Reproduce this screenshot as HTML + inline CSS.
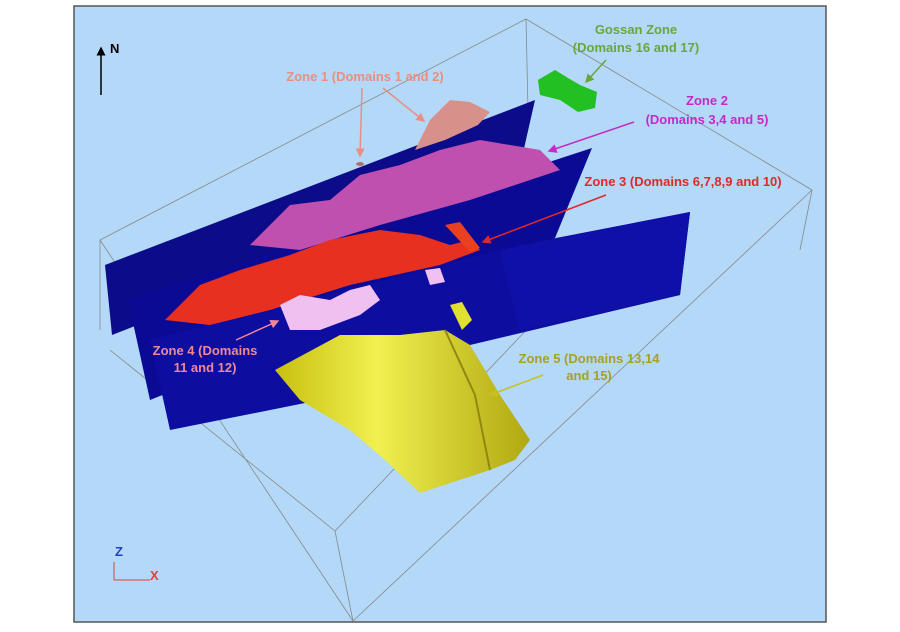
<!DOCTYPE html>
<html><head><style>
body{margin:0;background:#fff;width:900px;height:632px;overflow:hidden}
svg{display:block}
text{font-family:"Liberation Sans",sans-serif;font-weight:bold;font-size:13px}
</style></head><body>
<svg width="900" height="632" viewBox="0 0 900 632">
<defs>
<marker id="a" markerWidth="6" markerHeight="6" refX="5" refY="3" orient="auto"><path d="M0,0L6,3L0,6z" fill="context-stroke"/></marker>
<linearGradient id="y" x1="0" x2="1"><stop offset="0" stop-color="#c8c010"/><stop offset=".4" stop-color="#f0f050"/><stop offset="1" stop-color="#b0a810"/></linearGradient>
</defs>
<rect x="74" y="6" width="752" height="616" fill="#b4d8f8" stroke="#555" stroke-width="1.5"/>
<g stroke="#888" stroke-width="0.8" fill="none">
<path d="M526,19L100,240M526,19L812,190M812,190L353,621M100,240L353,621M335,531L353,621M335,531L555,300M335,531L110,350M526,19L528,110M812,190L800,250M100,240L100,330"/>
</g>
<polygon points="105,265 535,100 518,175 112,335" fill="#0c0c8a"/>
<polygon points="128,300 592,148 555,238 150,400" fill="#0a0a94"/>
<polygon points="150,340 520,245 690,212 680,295 470,345 320,400 170,430" fill="#0d0da0"/>
<polygon points="500,250 690,212 680,295 520,330" fill="#0f10a8"/>
<path d="M415,150 L430,120 L450,100 L470,102 L490,112 L478,125 L445,140Z" fill="#d8908a"/>
<ellipse cx="360" cy="164" rx="4" ry="2" fill="#b07070"/>
<path d="M538,80L555,70L568,78L580,85L597,92L595,108L578,112L560,100L540,95Z" fill="#22c022"/>
<path d="M250,245 L290,205 L330,200 L360,175 L400,165 L440,150 L480,140 L540,150 L560,170 L470,200 L380,225 L300,250Z" fill="#c050b0"/>
<path d="M165,320 L200,285 L240,270 L290,255 L330,240 L380,230 L420,235 L450,245 L470,240 L480,250 L440,265 L350,285 L270,310 L210,325Z" fill="#e83020"/>
<path d="M445,225L460,222L480,248L470,252Z" fill="#e84020"/>
<path d="M280,305L300,295L330,300L350,290L370,285L380,300L360,315L320,330L290,330Z" fill="#f0c0f0"/>
<path d="M425,270L440,268L445,282L430,285Z" fill="#f0c0f0"/>
<path d="M450,305L462,302L472,320L462,330Z" fill="#e0e030"/>
<path d="M275,370 L340,335 L400,335 L445,330 L470,345 L500,395 L530,440 L515,460 L490,470 L420,493 L385,460 L350,430 L300,400Z" fill="url(#y)"/>
<path d="M445,330L475,395L490,470" stroke="#908810" stroke-width="2" fill="none"/>
<path d="M101,95L101,48" stroke="#000" stroke-width="1.5" marker-end="url(#a)"/>
<text x="110" y="53" fill="#000" font-size="12">N</text>
<path d="M114,580L114,562M114,580L150,580" stroke="#e04040" stroke-width="1"/>
<text x="115" y="556" font-size="7" fill="#2040c0">Z</text><text x="150" y="580" font-size="7" fill="#e04040">X</text>
<g text-anchor="middle">
<text x="636" y="34" fill="#66a83a">Gossan Zone</text>
<text x="636" y="52" fill="#66a83a">(Domains 16 and 17)</text>
<text x="365" y="81" fill="#e88f82">Zone 1 (Domains 1 and 2)</text>
<text x="707" y="105" fill="#c828c8">Zone 2</text>
<text x="707" y="124" fill="#c828c8">(Domains 3,4 and 5)</text>
<text x="683" y="186" fill="#e02828">Zone 3 (Domains 6,7,8,9 and 10)</text>
<text x="205" y="355" fill="#f08898">Zone 4 (Domains</text>
<text x="205" y="372" fill="#f08898">11 and 12)</text>
<text x="589" y="363" fill="#a8a020">Zone 5 (Domains 13,14</text>
<text x="589" y="380" fill="#a8a020">and 15)</text>
</g>
<g stroke-width="1.5" fill="none">
<path d="M362,88L360,156" stroke="#e88f82" marker-end="url(#a)"/>
<path d="M383,88L424,121" stroke="#e88f82" marker-end="url(#a)"/>
<path d="M606,60L586,82" stroke="#66a83a" marker-end="url(#a)"/>
<path d="M634,122L549,151" stroke="#c828c8" marker-end="url(#a)"/>
<path d="M606,195L483,242" stroke="#e02828" marker-end="url(#a)"/>
<path d="M236,340L278,321" stroke="#f08898" marker-end="url(#a)"/>
<path d="M543,375L490,395" stroke="#c8c020" marker-end="url(#a)"/>
</g>
</svg>
</body></html>
